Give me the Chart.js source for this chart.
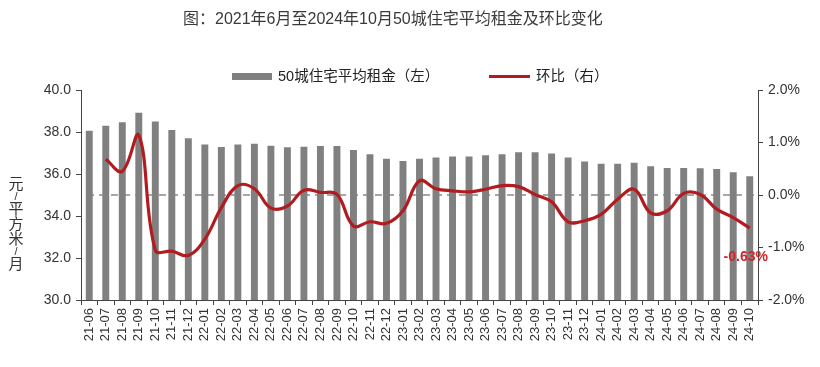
<!DOCTYPE html>
<html>
<head>
<meta charset="utf-8">
<script src="https://cdn.jsdelivr.net/npm/chart.js@4.4.1/dist/chart.umd.min.js"></script>
<style>
  html, body { margin: 0; padding: 0; background: #fff; }
  #wrap { position: relative; width: 820px; height: 367px; font-family: "Liberation Sans", "Noto Sans CJK SC", sans-serif; }
  #c { position: absolute; left: 0; top: 0; }
  .title { position: absolute; left: 183px; top: 5px; font-size: 16px; color: #3a3a3a; white-space: nowrap; }
  .leg { position: absolute; top: 66px; font-size: 14.5px; color: #222; white-space: nowrap; line-height: 20px; }
  .leg i { display: inline-block; vertical-align: middle; margin-right: 6px; position: relative; top: -1px; }
  .ytitle { position: absolute; left: 7px; top: 176px; width: 18px; display: flex; flex-direction: column; align-items: center; color: #333; }
  .ytitle span { display: block; font-size: 15px; line-height: 15px; height: 15px; }
  .ytitle span.s { font-size: 11px; line-height: 10px; height: 10px; }
</style>
</head>
<body>
<div id="wrap">
  <canvas id="c" width="820" height="367"></canvas>
  <div class="title">图：2021年6月至2024年10月50城住宅平均租金及环比变化</div>
  <div class="leg" style="left:232px"><i style="width:40px;height:7px;background:#808080"></i>50城住宅平均租金（左）</div>
  <div class="leg" style="left:489px"><i style="width:41px;height:3px;background:#b01c20"></i>环比（右）</div>
  <div class="ytitle"><span>元</span><span class="s">/</span><span>平</span><span>方</span><span>米</span><span class="s">/</span><span>月</span></div>
</div>
<script>
const categories = ["21-06","21-07","21-08","21-09","21-10","21-11","21-12",
  "22-01","22-02","22-03","22-04","22-05","22-06","22-07","22-08","22-09","22-10","22-11","22-12",
  "23-01","23-02","23-03","23-04","23-05","23-06","23-07","23-08","23-09","23-10","23-11","23-12",
  "24-01","24-02","24-03","24-04","24-05","24-06","24-07","24-08","24-09","24-10"];
const rent = [38.06, 38.30, 38.46, 38.92, 38.50, 38.10, 37.70,
  37.40, 37.29, 37.40, 37.44, 37.34, 37.27, 37.30, 37.33, 37.33, 37.14, 36.94, 36.73,
  36.62, 36.73, 36.78, 36.83, 36.83, 36.89, 36.94, 37.03, 37.03, 36.98, 36.78, 36.59,
  36.49, 36.49, 36.54, 36.37, 36.29, 36.29, 36.27, 36.24, 36.08, 35.89];
const mom = [null, 0.68, 0.45, 1.14, -1.05, -1.07, -1.15,
  -0.84, -0.24, 0.18, 0.12, -0.25, -0.21, 0.09, 0.05, 0.01, -0.59, -0.51, -0.54,
  -0.30, 0.27, 0.12, 0.08, 0.06, 0.11, 0.18, 0.16, 0.01, -0.13, -0.51, -0.49,
  -0.37, -0.08, 0.11, -0.34, -0.30, 0.03, 0.01, -0.27, -0.43, -0.63];
const leftTicks = [30, 32, 34, 36, 38, 40];
const rightTicks = [-2, -1, 0, 1, 2];

const FONT = '"Liberation Sans", "Noto Sans CJK SC", sans-serif';
const RED = '#b01c20';

const zeroLine = {
  id: 'zeroLine',
  beforeDatasetsDraw(chart) {
    const ctx = chart.ctx, a = chart.chartArea, y = chart.scales.y1.getPixelForValue(0);
    ctx.save();
    ctx.strokeStyle = '#8a8a8a';
    ctx.lineWidth = 1.5;
    ctx.setLineDash([7, 5]);
    ctx.beginPath();
    ctx.moveTo(a.left + 6, y);
    ctx.lineTo(a.right - 2, y);
    ctx.stroke();
    ctx.restore();
  }
};
const lastLabel = {
  id: 'lastLabel',
  afterDatasetsDraw(chart) {
    const meta = chart.getDatasetMeta(1);
    const i = mom.length - 1;
    const p = meta.data[i];
    const ctx = chart.ctx;
    ctx.save();
    ctx.font = 'bold 14px ' + FONT;
    ctx.fillStyle = '#d0262b';
    ctx.textAlign = 'center';
    ctx.textBaseline = 'middle';
    ctx.fillText(mom[i].toFixed(2) + '%', p.x - 4, p.y + 29);
    ctx.restore();
  }
};

new Chart(document.getElementById('c'), {
  data: {
    labels: categories,
    datasets: [
      { type: 'bar', label: '50城住宅平均租金（左）', data: rent, yAxisID: 'y',
        backgroundColor: '#808080', categoryPercentage: 1, barPercentage: 0.42, order: 2 },
      { type: 'line', label: '环比（右）', data: mom, yAxisID: 'y1',
        borderColor: RED, borderWidth: 3.2, pointRadius: 0, tension: 0.4, fill: false, order: 1 }
    ]
  },
  options: {
    responsive: false,
    animation: false,
    layout: { padding: { top: 90, left: 0, right: 0, bottom: 0 } },
    plugins: { legend: { display: false }, title: { display: false }, tooltip: { enabled: false } },
    scales: {
      x: {
        offset: true,
        grid: { display: true, offset: true, drawOnChartArea: false, drawTicks: true, tickLength: 5, color: '#444', lineWidth: 1 },
        border: { display: true, color: '#444', width: 1 },
        ticks: { autoSkip: false, minRotation: 90, maxRotation: 90, padding: 3, color: '#333', font: { family: FONT, size: 13 } },
        afterFit(s) { s.height = 67; }
      },
      y: {
        position: 'left', min: leftTicks[0], max: leftTicks[leftTicks.length - 1],
        afterBuildTicks(s) { s.ticks = leftTicks.map(v => ({ value: v })); },
        grid: { drawOnChartArea: false, drawTicks: true, tickLength: 5, color: '#444' },
        border: { display: true, color: '#444', width: 1 },
        ticks: { padding: 5, color: '#333', font: { family: FONT, size: 14 }, callback: v => Number(v).toFixed(1) },
        afterFit(s) { s.width = 81; }
      },
      y1: {
        position: 'right', min: rightTicks[0], max: rightTicks[rightTicks.length - 1],
        afterBuildTicks(s) { s.ticks = rightTicks.map(v => ({ value: v })); },
        grid: { drawOnChartArea: false, drawTicks: true, tickLength: 5, color: '#444' },
        border: { display: true, color: '#444', width: 1 },
        ticks: { padding: 5, color: '#333', font: { family: FONT, size: 14 }, callback: v => Number(v).toFixed(1) + '%' },
        afterFit(s) { s.width = 62; }
      }
    }
  },
  plugins: [zeroLine, lastLabel]
});
</script>
</body>
</html>
